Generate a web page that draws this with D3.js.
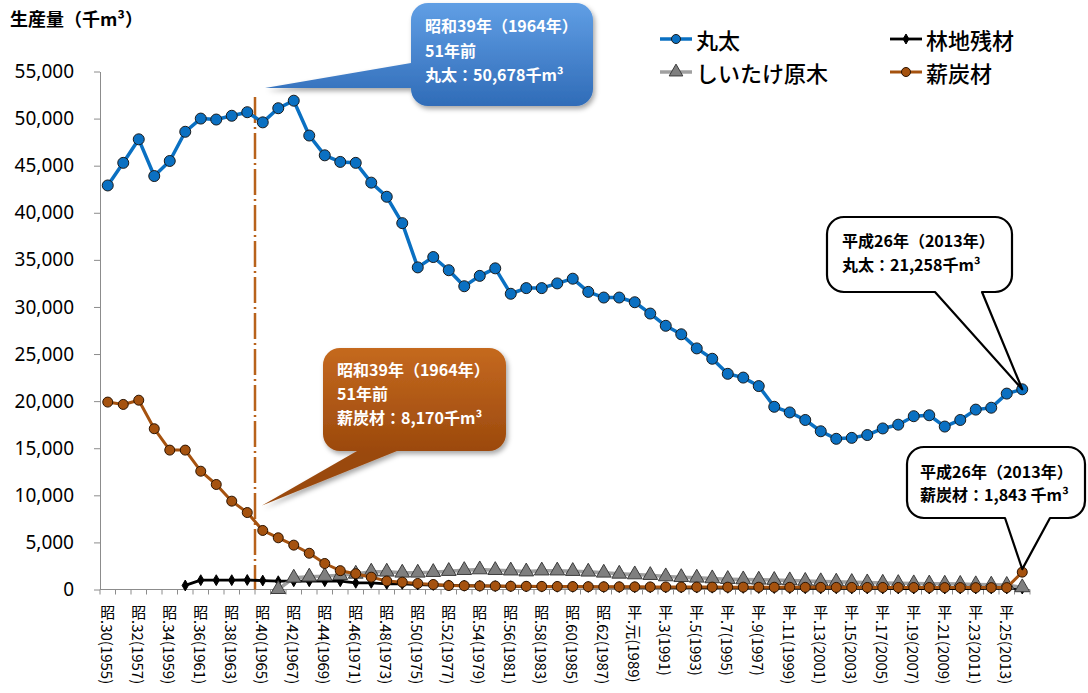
<!DOCTYPE html>
<html lang="ja">
<head>
<meta charset="UTF-8">
<title>生産量の推移</title>
<script src="https://d3js.org/d3.v7.min.js"></script>
<style>
  body { margin: 0; background: #fff; }
  text { font-family: "Noto Sans CJK JP", "Noto Sans", sans-serif; }
  .y.axis text { font-family: "Noto Sans", sans-serif; font-size: 19px; fill: #000; }
  .y.axis line, .y.axis .domain { stroke: #8c8c8c; }
</style>
</head>
<body>
<svg id="chart" width="1088" height="693"></svg>
<script>
// categories (years)
const years = [1955, 1956, 1957, 1958, 1959, 1960, 1961, 1962, 1963, 1964,
  1965, 1966, 1967, 1968, 1969, 1970, 1971, 1972, 1973, 1974,
  1975, 1976, 1977, 1978, 1979, 1980, 1981, 1982, 1983, 1984,
  1985, 1986, 1987, 1988, 1989, 1990, 1991, 1992, 1993, 1994,
  1995, 1996, 1997, 1998, 1999, 2000, 2001, 2002, 2003, 2004,
  2005, 2006, 2007, 2008, 2009, 2010, 2011, 2012, 2013, 2014];

// x tick labels (every other year)
const tickYears = [1955, 1957, 1959, 1961, 1963, 1965, 1967, 1969, 1971, 1973,
  1975, 1977, 1979, 1981, 1983, 1985, 1987, 1989, 1991, 1993,
  1995, 1997, 1999, 2001, 2003, 2005, 2007, 2009, 2011, 2013];
const tickLabels = ["昭.30(1955)", "昭.32(1957)", "昭.34(1959)", "昭.36(1961)", "昭.38(1963)",
  "昭.40(1965)", "昭.42(1967)", "昭.44(1969)", "昭.46(1971)", "昭.48(1973)",
  "昭.50(1975)", "昭.52(1977)", "昭.54(1979)", "昭.56(1981)", "昭.58(1983)",
  "昭.60(1985)", "昭.62(1987)", "平.元(1989)", "平.3(1991)", "平.5(1993)",
  "平.7(1995)", "平.9(1997)", "平.11(1999)", "平.13(2001)", "平.15(2003)",
  "平.17(2005)", "平.19(2007)", "平.21(2009)", "平.23(2011)", "平.25(2013)"];

const yTicks = [0, 5000, 10000, 15000, 20000, 25000, 30000, 35000, 40000, 45000, 50000, 55000];

// 丸太 (千m3)
const maruta = [42900, 45300, 47800, 43900, 45500, 48600, 50000, 49900, 50300, 50678,
  49600, 51100, 51900, 48200, 46100, 45400, 45300, 43200, 41700, 38900,
  34200, 35300, 33900, 32200, 33300, 34100, 31400, 32000, 32000, 32500,
  33000, 31600, 31000, 31000, 30500, 29300, 28000, 27100, 25600, 24500,
  22900, 22500, 21600, 19400, 18800, 18000, 16800, 16000, 16100, 16400,
  17100, 17500, 18400, 18500, 17300, 18000, 19100, 19300, 20800, 21258];

// 林地残材
const rinchi = [null, null, null, null, null, 430, 990, 990, 990, 1010,
  950, 880, 880, 880, 880, 880, 710, 710, 600, 600,
  530, 480, 440, 400, 380, 360, 340, 320, 300, 290,
  280, 270, 260, 250, 240, 230, 220, 210, 200, 190,
  180, 170, 160, 150, 140, 130, 120, 120, 110, 110,
  110, 100, 100, 100, 100, 100, 100, 100, 100, 100];

// しいたけ原木
const shiitake = [null, null, null, null, null, null, null, null, null, null,
  null, 30, 1240, 1350, 1420, 1520, 1660, 1880, 1880, 1770,
  1770, 1840, 1950, 2050, 2120, 2050, 2000, 1900, 2000, 2000,
  1950, 1880, 1770, 1660, 1590, 1520, 1380, 1300, 1240, 1170,
  1100, 1060, 1030, 1000, 960, 900, 860, 820, 780, 740,
  700, 670, 640, 620, 600, 580, 540, 500, 470, 220];

// 薪炭材
const shintan = [19900, 19650, 20100, 17070, 14800, 14800, 12560, 11150, 9380, 8170,
  6270, 5490, 4710, 3850, 2760, 2000, 1680, 1310, 900, 780,
  640, 530, 420, 400, 380, 370, 350, 340, 330, 320,
  310, 300, 290, 285, 280, 275, 270, 265, 260, 255,
  250, 250, 245, 240, 235, 230, 230, 225, 220, 220,
  215, 215, 210, 210, 205, 205, 200, 200, 200, 1843];

const svg = d3.select("#chart");
const plot = { left: 100, right: 1030, top: 71.5, bottom: 589.5 };

const x = d3.scaleBand().domain(years).range([plot.left, plot.right]);
const xc = yr => x(yr) + x.bandwidth() / 2;
const y = d3.scaleLinear().domain([0, 55000]).range([plot.bottom, plot.top]);

// defs: shadow + gradients
const defs = svg.append("defs");
defs.append("filter").attr("id", "shadow").attr("x", "-20%").attr("y", "-20%").attr("width", "140%").attr("height", "140%")
  .append("feDropShadow").attr("dx", 2).attr("dy", 3).attr("stdDeviation", 2.5).attr("flood-opacity", 0.35);
function vGrad(id, c1, c2, y1, y2) {
  const g = defs.append("linearGradient").attr("id", id)
    .attr("gradientUnits", "userSpaceOnUse").attr("x1", 0).attr("x2", 0).attr("y1", y1).attr("y2", y2);
  g.append("stop").attr("offset", "0%").attr("stop-color", c1);
  g.append("stop").attr("offset", "100%").attr("stop-color", c2);
}
vGrad("blueGrad", "#62a0e6", "#2e6ab6", 0, 110);
vGrad("brownGrad", "#c66a20", "#9a480c", 345, 455);

// title
svg.append("text").attr("x", 10).attr("y", 26)
  .attr("font-size", 18).attr("font-weight", "bold").text("生産量（千m³）");

// y axis
svg.append("g").attr("class", "y axis")
  .attr("transform", `translate(${plot.left},0)`)
  .call(d3.axisLeft(y).tickValues(yTicks).tickFormat(d3.format(",")).tickSize(6).tickPadding(20).tickSizeOuter(0));

// x axis line + ticks at category boundaries
const xAxis = svg.append("g").attr("class", "x axis");
xAxis.append("line").attr("x1", plot.left).attr("x2", plot.right)
  .attr("y1", plot.bottom).attr("y2", plot.bottom).attr("stroke", "#8c8c8c");
xAxis.selectAll("line.tick")
  .data(years.concat(["end"]))
  .join("line").attr("class", "tick")
  .attr("x1", d => d === "end" ? plot.right : x(d))
  .attr("x2", d => d === "end" ? plot.right : x(d))
  .attr("y1", plot.bottom).attr("y2", plot.bottom + 5)
  .attr("stroke", "#8c8c8c");

// vertical tick labels: first char upright, rest rotated
const lab = xAxis.selectAll("g.lab")
  .data(tickYears.map((yr, i) => ({ yr, label: tickLabels[i] })))
  .join("g").attr("class", "lab")
  .attr("transform", d => `translate(${xc(d.yr)},0)`);
lab.append("text")
  .attr("x", 0).attr("y", 611)
  .attr("text-anchor", "middle").attr("dominant-baseline", "central")
  .attr("font-size", 15).text(d => d.label.slice(0, 1));
lab.append("text")
  .attr("transform", "translate(0,620) rotate(90)")
  .attr("dominant-baseline", "central")
  .attr("font-size", 15).text(d => d.label.slice(1));

// 1964 marker line (dash-dot)
svg.append("line")
  .attr("x1", x(1965)).attr("x2", x(1965))
  .attr("y1", y(52300)).attr("y2", plot.bottom)
  .attr("stroke", "#b8621b").attr("stroke-width", 2.5)
  .attr("stroke-dasharray", "26,4,2,4");

// series
const series = [
  { name: "丸太", values: maruta, color: "#0a70c2", width: 3.5, marker: "circle", fill: "#0a70c2", stroke: "#1b1b1b", size: 5.5 },
  { name: "林地残材", values: rinchi, color: "#000", width: 2.8, marker: "diamond", fill: "#000", stroke: "#000", size: 34 },
  { name: "しいたけ原木", values: shiitake, color: "#a0a0a0", width: 3.5, marker: "triangle", fill: "#7f7f7f", stroke: "#3c3c3c", size: 95 },
  { name: "薪炭材", values: shintan, color: "#a5520f", width: 3, marker: "circle", fill: "#a5520f", stroke: "#2b1300", size: 5 }
];

const line = d3.line()
  .defined(d => d.v !== null)
  .x(d => xc(d.yr))
  .y(d => y(d.v));

function drawMarker(sel, s) {
  if (s.marker === "circle") {
    sel.append("circle").attr("r", s.size)
      .attr("fill", s.fill).attr("stroke", s.stroke).attr("stroke-width", 1);
  } else {
    const sym = s.marker === "diamond" ? d3.symbolDiamond : d3.symbolTriangle;
    sel.append("path").attr("d", d3.symbol(sym, s.size)())
      .attr("fill", s.fill).attr("stroke", s.stroke).attr("stroke-width", 1);
  }
}

series.forEach(s => {
  const pts = years.map((yr, i) => ({ yr, v: s.values[i] }));
  const g = svg.append("g");
  g.append("path").datum(pts)
    .attr("fill", "none").attr("stroke", s.color).attr("stroke-width", s.width)
    .attr("stroke-linejoin", "round").attr("d", line);
  g.selectAll("g.pt").data(pts.filter(d => d.v !== null))
    .join("g").attr("class", "pt")
    .attr("transform", d => `translate(${xc(d.yr)},${y(d.v)})`)
    .each(function () { drawMarker(d3.select(this), s); });
});

// legend
const legendPos = [[660, 39], [890, 39], [660, 72], [890, 72]];
series.forEach((s, i) => {
  const [lx, ly] = legendPos[i];
  const g = svg.append("g").attr("transform", `translate(${lx},${ly})`);
  g.append("line").attr("x1", 0).attr("x2", 32).attr("stroke", s.color).attr("stroke-width", s.width);
  const m = g.append("g").attr("transform", "translate(16,0)");
  drawMarker(m, Object.assign({}, s, { size: s.marker === "circle" ? 4.5 : s.size * 0.85 }));
  g.append("text").attr("x", 36).attr("y", 0).attr("dominant-baseline", "central")
    .attr("font-size", 22).attr("font-weight", 500).text(s.name);
});

// callouts
function bubble(bx, by, w, h, r, side, b1, b2, tx, ty) {
  const p = d3.path();
  p.moveTo(bx + r, by);
  p.lineTo(bx + w - r, by);
  p.arcTo(bx + w, by, bx + w, by + r, r);
  p.lineTo(bx + w, by + h - r);
  p.arcTo(bx + w, by + h, bx + w - r, by + h, r);
  if (side === "bottom") {
    p.lineTo(b2, by + h); p.lineTo(tx, ty); p.lineTo(b1, by + h);
  }
  p.lineTo(bx + r, by + h);
  p.arcTo(bx, by + h, bx, by + h - r, r);
  if (side === "left") {
    p.lineTo(bx, b2); p.lineTo(tx, ty); p.lineTo(bx, b1);
  }
  p.lineTo(bx, by + r);
  p.arcTo(bx, by, bx + r, by, r);
  p.closePath();
  return p.toString();
}

const callouts = [
  { box: [411, 3, 182, 103], side: "left", base: [63, 88], tip: [x(1965) + 10, 88],
    fill: "url(#blueGrad)", stroke: "none", color: "#fff", shadow: true, tx: 425, ty: [25, 50, 74],
    lines: ["昭和39年（1964年）", "51年前", "丸太：50,678千m³"] },
  { box: [323, 348, 183, 103], side: "bottom", base: [357, 397], tip: [x(1965) + 7, y(8170) - 7],
    fill: "url(#brownGrad)", stroke: "none", color: "#fff", shadow: true, tx: 337, ty: [369, 393, 417],
    lines: ["昭和39年（1964年）", "51年前", "薪炭材：8,170千m³"] },
  { box: [827, 217, 185, 75], side: "bottom", base: [935, 982], tip: [xc(2014), y(21258)],
    fill: "#fff", stroke: "#000", color: "#000", shadow: false, tx: 842, ty: [240, 264],
    lines: ["平成26年（2013年）", "丸太：21,258千m³"] },
  { box: [907, 447, 178, 71], side: "bottom", base: [1005, 1050], tip: [xc(2014), y(1843) - 3],
    fill: "#fff", stroke: "#000", color: "#000", shadow: false, tx: 920, ty: [471, 494],
    lines: ["平成26年（2013年）", "薪炭材：1,843 千m³"] }
];

callouts.forEach(c => {
  const [bx, by, w, h] = c.box;
  const g = svg.append("g");
  g.append("path")
    .attr("d", bubble(bx, by, w, h, 17, c.side, c.base[0], c.base[1], c.tip[0], c.tip[1]))
    .attr("fill", c.fill).attr("stroke", c.stroke).attr("stroke-width", 2.2)
    .attr("stroke-linejoin", "round")
    .attr("filter", c.shadow ? "url(#shadow)" : null);
  c.lines.forEach((t, i) => {
    g.append("text").attr("x", c.tx).attr("y", c.ty[i])
      .attr("dominant-baseline", "central")
      .attr("font-size", 16).attr("font-weight", "bold")
      .attr("fill", c.color).text(t);
  });
});
</script>
</body>
</html>
